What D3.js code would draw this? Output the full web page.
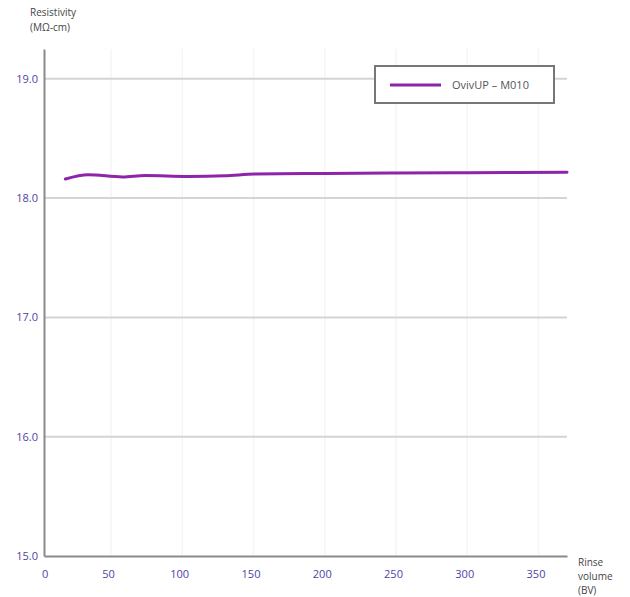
<!DOCTYPE html>
<html>
<head>
<meta charset="utf-8">
<script src="https://cdn.jsdelivr.net/npm/d3@7"></script>
<style>
  body { margin: 0; background: #fff; }
  text { font-family: "Open Sans", "DejaVu Sans", sans-serif; }
</style>
</head>
<body>
<div id="chart"></div>
<script>
// rinse volume (BV) and resistivity (MΩ-cm)
var rinseVolume = [18, 34, 58, 74, 104, 130, 151, 200, 250, 300, 370];
var resistivity = [18.16, 18.195, 18.178, 18.19, 18.182, 18.187, 18.203, 18.207, 18.21, 18.213, 18.217];
var xTicks = [0, 50, 100, 150, 200, 250, 300, 350];
var yTicks = [15, 16, 17, 18, 19];
var seriesName = "OvivUP – M010";

var width = 630, height = 597;

var svg = d3.select("#chart").append("svg")
    .attr("width", width)
    .attr("height", height);

var x = d3.scaleLinear().domain([3, 370]).range([44, 567]);
var y = d3.scaleLinear().domain([15, 19.25]).range([556, 49]);

// faint vertical grid
svg.append("g").selectAll("line")
    .data(xTicks.filter(function(d) { return d > 0; }))
    .enter().append("line")
    .attr("x1", function(d) { return x(d); })
    .attr("x2", function(d) { return x(d); })
    .attr("y1", y(19.25))
    .attr("y2", y(15))
    .attr("stroke", "#f5f5f5")
    .attr("stroke-width", 1.5);

// horizontal grid
svg.append("g").selectAll("line")
    .data(yTicks.filter(function(d) { return d > 15; }))
    .enter().append("line")
    .attr("x1", x(3))
    .attr("x2", x(370))
    .attr("y1", function(d) { return y(d); })
    .attr("y2", function(d) { return y(d); })
    .attr("stroke", "#d4d4d4")
    .attr("stroke-width", 2);

// axes
var xAxis = svg.append("g")
    .attr("transform", "translate(0," + y(15) + ")")
    .call(d3.axisBottom(x).tickValues(xTicks).tickSize(0).tickPadding(14)
        .tickFormat(d3.format("d")));
var yAxis = svg.append("g")
    .attr("transform", "translate(" + x(3) + ",0)")
    .call(d3.axisLeft(y).tickValues(yTicks).tickSize(0).tickPadding(6)
        .tickFormat(d3.format(".1f")));

[xAxis, yAxis].forEach(function(a) {
    a.select(".domain").attr("stroke", "#8a8a8a").attr("stroke-width", 2);
    a.selectAll("text")
        .attr("fill", "#4b44a6")
        .style("font-size", "11px");
});
xAxis.selectAll("text").attr("dx", function(d) { return d === 0 ? 5 : -3; });

// series line
var line = d3.line()
    .x(function(d, i) { return x(rinseVolume[i]); })
    .y(function(d) { return y(d); })
    .curve(d3.curveMonotoneX);

svg.append("path")
    .datum(resistivity)
    .attr("d", line)
    .attr("fill", "none")
    .attr("stroke", "#8e24aa")
    .attr("stroke-width", 3)
    .attr("stroke-linecap", "round");

// axis titles
svg.append("text")
    .attr("x", 30).attr("y", 16)
    .attr("fill", "#444").style("font-size", "10px")
    .text("Resistivity");
svg.append("text")
    .attr("x", 30).attr("y", 31)
    .attr("fill", "#444").style("font-size", "10px")
    .text("(MΩ-cm)");

var xTitle = ["Rinse", "volume", "(BV)"];
svg.append("g").selectAll("text")
    .data(xTitle)
    .enter().append("text")
    .attr("x", 578)
    .attr("y", function(d, i) { return 566 + i * 14; })
    .attr("fill", "#444").style("font-size", "10px")
    .text(function(d) { return d; });

// legend
var legend = svg.append("g");
legend.append("rect")
    .attr("x", 375).attr("y", 66)
    .attr("width", 179).attr("height", 37)
    .attr("fill", "#fff")
    .attr("stroke", "#777")
    .attr("stroke-width", 2);
legend.append("line")
    .attr("x1", 390).attr("x2", 441)
    .attr("y1", 85).attr("y2", 85)
    .attr("stroke", "#8e24aa")
    .attr("stroke-width", 3);
legend.append("text")
    .attr("x", 452).attr("y", 89)
    .attr("fill", "#555").style("font-size", "11px")
    .text(seriesName);
</script>
</body>
</html>
